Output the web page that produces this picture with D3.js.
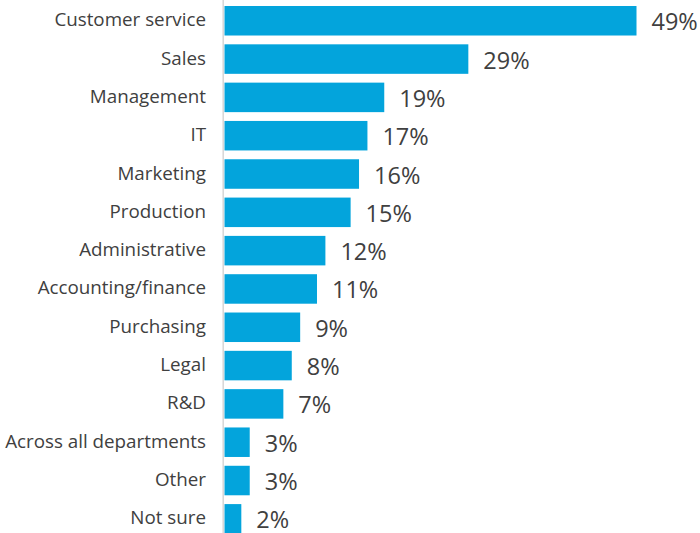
<!DOCTYPE html>
<html>
<head>
<meta charset="utf-8">
<script src="https://cdn.jsdelivr.net/npm/d3@7"></script>
<style>
  html, body { margin: 0; padding: 0; background: #ffffff; }
  svg { display: block; }
</style>
</head>
<body>
<svg id="chart" width="700" height="533"></svg>
<script>
// Departments and the share of respondents naming each one
const departments = [
  "Customer service", "Sales", "Management", "IT", "Marketing", "Production",
  "Administrative", "Accounting/finance", "Purchasing", "Legal", "R&D",
  "Across all departments", "Other", "Not sure"
];
const shares = [49, 29, 19, 17, 16, 15, 12, 11, 9, 8, 7, 3, 3, 2];

const svg = d3.select("#chart");
const barColor = "#03a4dc";
const textColor = "#404040";
const font = "'Open Sans', 'Segoe UI', sans-serif";

const x = d3.scaleLinear().domain([0, 49]).range([224.5, 636.5]);
const y = d3.scaleBand()
  .domain(departments)
  .range([1.6, 538])
  .paddingInner(0.23)
  .paddingOuter(0.115);

const rows = departments.map((d, i) => ({ name: d, value: shares[i] }));

// Vertical baseline of the bars
svg.append("line")
  .attr("x1", 223.2).attr("x2", 223.2)
  .attr("y1", 0).attr("y2", 533)
  .attr("stroke", "#d6d6d6")
  .attr("stroke-width", 1.5);

svg.append("g").selectAll("rect")
  .data(rows)
  .join("rect")
  .attr("x", x(0))
  .attr("y", d => y(d.name))
  .attr("width", d => x(d.value) - x(0))
  .attr("height", y.bandwidth())
  .attr("fill", barColor);

// Category labels
svg.append("g").selectAll("text")
  .data(rows)
  .join("text")
  .attr("x", 206)
  .attr("y", d => y(d.name) + y.bandwidth() / 2 + 5.5)
  .attr("text-anchor", "end")
  .attr("font-family", font)
  .attr("font-size", 18.8)
  .attr("fill", textColor)
  .text(d => d.name);

// Value labels
svg.append("g").selectAll("text")
  .data(rows)
  .join("text")
  .attr("x", d => x(d.value) + 15)
  .attr("y", d => y(d.name) + y.bandwidth() / 2 + 9.5)
  .attr("font-family", font)
  .attr("font-size", 23.5)
  .attr("fill", textColor)
  .text(d => d.value + "%");
</script>
</body>
</html>
